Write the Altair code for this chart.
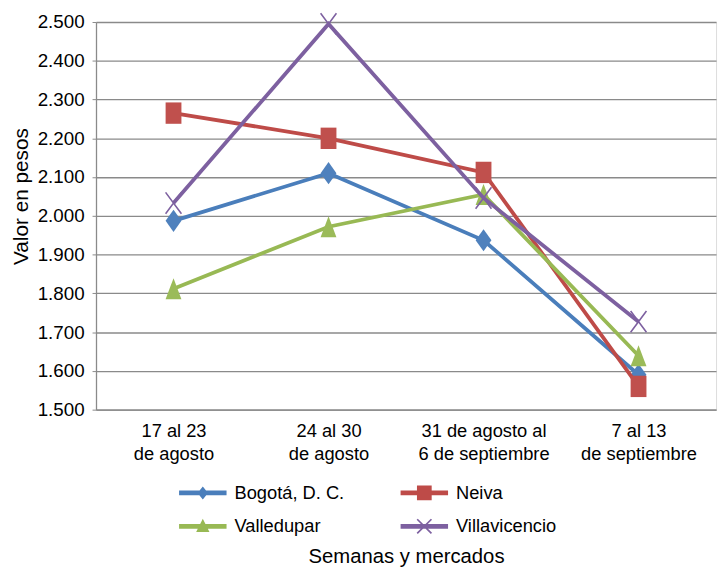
import altair as alt
import pandas as pd

# ---- data -------------------------------------------------------------
semanas = [
    "17 al 23\nde agosto",
    "24 al 30\nde agosto",
    "31 de agosto al\n6 de septiembre",
    "7 al 13\nde septiembre",
]
series = ["Bogotá, D. C.", "Neiva", "Valledupar", "Villavicencio"]
bogota = [1987, 2110, 1937, 1590]
neiva = [2265, 2200, 2112, 1560]
valledupar = [1812, 1972, 2055, 1639]
villavicencio = [2033, 2495, 2046, 1727]
y_ticks = [1500, 1600, 1700, 1800, 1900, 2000, 2100, 2200, 2300, 2400, 2500]

# ---- styles -----------------------------------------------------------
line_colors = ["#4A7EBB", "#BE4B48", "#98B954", "#7D60A0"]
marker_colors = ["#4F81BD", "#C0504D", "#9BBB59", "#7D60A0"]
marker_paths = [
    "M0,-1.4L1,0L0,1.4L-1,0Z",
    "M-1,-1.35H1V1.35H-1Z",
    "M0,-1.32L1,1.32L-1,1.32Z",
    "M-1,-1.35L1,1.35M-1,1.35L1,-1.35",
]
marker_filled = [True, True, True, False]
LINE = "M-1,-0.1H1V0.1H-1Z"
legend_paths = [
    LINE + "M0,-0.27L0.22,0L0,0.27L-0.22,0Z",
    LINE + "M-0.31,-0.31H0.31V0.31H-0.31Z",
    LINE + "M0,-0.32L0.28,0.24L-0.28,0.24Z",
    LINE + "M-0.275,-0.325L0.325,0.275L0.275,0.325L-0.325,-0.275Z"
           "M-0.275,0.325L-0.325,0.275L0.275,-0.325L0.325,-0.275Z",
]

FONT = "Liberation Sans"
GRAY = "#8A8A8A"

rows = []
for s, vals in zip(series, [bogota, neiva, valledupar, villavicencio]):
    for w, v in zip(semanas, vals):
        rows.append({"semana": w, "serie": s, "valor": v})
df = pd.DataFrame(rows)

x_enc = alt.X(
    "semana:N",
    sort=semanas,
    scale=alt.Scale(type="point", padding=0.5),
    axis=alt.Axis(
        title="Semanas y mercados",
        labelExpr="split(datum.label, '\\n')",
        labelAngle=0,
        labelFontSize=18.5,
        labelLineHeight=23,
        labelPadding=12,
        labelBaseline="top",
        ticks=False,
        tickSize=0,
        domainColor=GRAY,
        domainWidth=1.3,
        grid=False,
        titleFontSize=20.5,
        titleY=155,
        titleBaseline="alphabetic",
        titleFontWeight="normal",
    ),
)
y_enc = alt.Y(
    "valor:Q",
    scale=alt.Scale(domain=[1500, 2500], nice=False, zero=False),
    axis=alt.Axis(
        values=y_ticks,
        labelExpr="replace(format(datum.value, ','), ',', '.')",
        title="Valor en pesos",
        grid=True,
        gridColor=GRAY,
        gridWidth=1.3,
        domainColor=GRAY,
        domainWidth=1.3,
        tickColor=GRAY,
        tickSize=4,
        labelPadding=8,
        labelFontSize=19,
        titleFontSize=21,
        titleX=-69,
        titleY=176,
        titleAngle=-90,
        titleAlign="center",
        titleBaseline="alphabetic",
        titleFontWeight="normal",
    ),
)

legend_props = dict(
    orient="none",
    direction="horizontal",
    legendX=84,
    legendY=452,
    columns=2,
    columnPadding=56,
    rowPadding=0,
    title=None,
    symbolSize=2304,
    symbolStrokeWidth=0,
    symbolOpacity=1,
    labelFontSize=18.5,
    labelOffset=8,
    labelFont=FONT,
    labelColor="black",
    labelLimit=300,
)

legend_layer = alt.Chart(df).mark_point(filled=True, opacity=0).encode(
    x=x_enc,
    y=y_enc,
    color=alt.Color("serie:N", sort=series,
                    scale=alt.Scale(domain=series, range=line_colors),
                    legend=alt.Legend(**legend_props)),
    shape=alt.Shape("serie:N", sort=series,
                    scale=alt.Scale(domain=series, range=legend_paths),
                    legend=alt.Legend(**legend_props)),
)

layers = [legend_layer]
for s, lc, mc, path, filled in zip(series, line_colors, marker_colors, marker_paths, marker_filled):
    base = alt.Chart(df).transform_filter(alt.datum.serie == s)
    layers.append(base.mark_line(color=lc, strokeWidth=3.8).encode(x=x_enc, y=y_enc))
    if filled:
        pt = base.mark_point(shape=path, filled=True, fill=mc, opacity=1, size=256, strokeWidth=0)
    else:
        pt = base.mark_point(shape=path, filled=False, stroke=mc, opacity=1, size=256, strokeWidth=1.6)
    layers.append(pt.encode(x=x_enc, y=y_enc))

chart = (
    alt.layer(*layers)
    .properties(
        width=627,
        height=392,
        autosize=alt.AutoSizeParams(type="none"),
        padding={"left": 89, "top": 11, "right": 4, "bottom": 161},
    )
    .configure_view(stroke=None)
    .configure_axis(labelFont=FONT, titleFont=FONT, labelColor="black", titleColor="black")
    .configure(background="white")
)

chart.save("out.html", embed_options={"renderer": "svg", "actions": False})
